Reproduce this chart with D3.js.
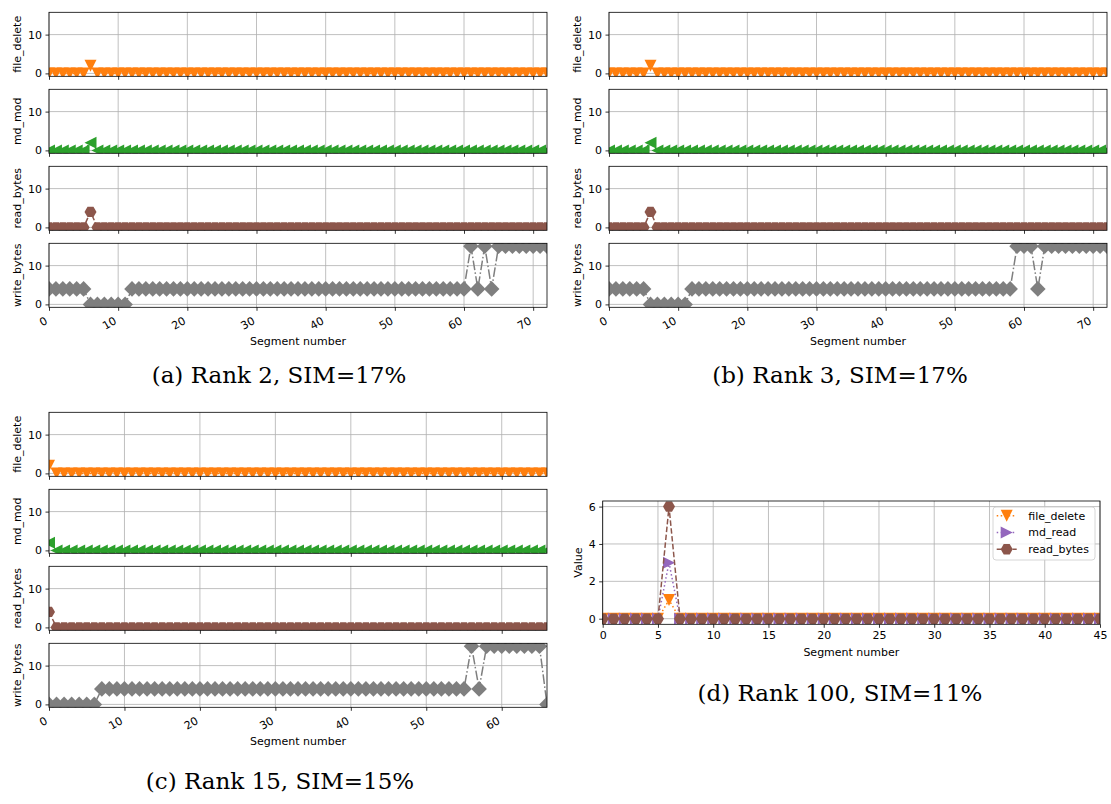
<!DOCTYPE html>
<html>
<head>
<meta charset="utf-8">
<script src="https://cdn.jsdelivr.net/npm/d3@7"></script>
<style>
  body { margin: 0; background: #fff; }
  svg { font-family: "DejaVu Sans", sans-serif; }
</style>
</head>
<body>
<svg width="1111" height="804"></svg>
<script>
// ---- data ----
const rank2FileDelete = [0,0,0,0,0,0,2,0,0,0, 0,0,0,0,0,0,0,0,0,0, 0,0,0,0,0,0,0,0,0,0, 0,0,0,0,0,0,0,0,0,0,
  0,0,0,0,0,0,0,0,0,0, 0,0,0,0,0,0,0,0,0,0, 0,0,0,0,0,0,0,0,0,0, 0,0,0];
const rank2MdMod = [0,0,0,0,0,0,2,0,0,0, 0,0,0,0,0,0,0,0,0,0, 0,0,0,0,0,0,0,0,0,0, 0,0,0,0,0,0,0,0,0,0,
  0,0,0,0,0,0,0,0,0,0, 0,0,0,0,0,0,0,0,0,0, 0,0,0,0,0,0,0,0,0,0, 0,0,0];
const rank2ReadBytes = [0,0,0,0,0,0,4,0,0,0, 0,0,0,0,0,0,0,0,0,0, 0,0,0,0,0,0,0,0,0,0, 0,0,0,0,0,0,0,0,0,0,
  0,0,0,0,0,0,0,0,0,0, 0,0,0,0,0,0,0,0,0,0, 0,0,0,0,0,0,0,0,0,0, 0,0,0];
const rank2WriteBytes = [4,4,4,4,4,4,0,0,0,0, 0,0,4,4,4,4,4,4,4,4, 4,4,4,4,4,4,4,4,4,4, 4,4,4,4,4,4,4,4,4,4,
  4,4,4,4,4,4,4,4,4,4, 4,4,4,4,4,4,4,4,4,4, 4,15,4,15,4,15,15,15,15,15, 15,15,15];

const rank3FileDelete = [0,0,0,0,0,0,2,0,0,0, 0,0,0,0,0,0,0,0,0,0, 0,0,0,0,0,0,0,0,0,0, 0,0,0,0,0,0,0,0,0,0,
  0,0,0,0,0,0,0,0,0,0, 0,0,0,0,0,0,0,0,0,0, 0,0,0,0,0,0,0,0,0,0, 0,0,0];
const rank3MdMod = [0,0,0,0,0,0,2,0,0,0, 0,0,0,0,0,0,0,0,0,0, 0,0,0,0,0,0,0,0,0,0, 0,0,0,0,0,0,0,0,0,0,
  0,0,0,0,0,0,0,0,0,0, 0,0,0,0,0,0,0,0,0,0, 0,0,0,0,0,0,0,0,0,0, 0,0,0];
const rank3ReadBytes = [0,0,0,0,0,0,4,0,0,0, 0,0,0,0,0,0,0,0,0,0, 0,0,0,0,0,0,0,0,0,0, 0,0,0,0,0,0,0,0,0,0,
  0,0,0,0,0,0,0,0,0,0, 0,0,0,0,0,0,0,0,0,0, 0,0,0,0,0,0,0,0,0,0, 0,0,0];
const rank3WriteBytes = [4,4,4,4,4,4,0,0,0,0, 0,0,4,4,4,4,4,4,4,4, 4,4,4,4,4,4,4,4,4,4, 4,4,4,4,4,4,4,4,4,4,
  4,4,4,4,4,4,4,4,4,4, 4,4,4,4,4,4,4,4,4,15, 15,15,4,15,15,15,15,15,15,15, 15,15,15];

const rank15FileDelete = [2,0,0,0,0,0,0,0,0,0, 0,0,0,0,0,0,0,0,0,0, 0,0,0,0,0,0,0,0,0,0, 0,0,0,0,0,0,0,0,0,0,
  0,0,0,0,0,0,0,0,0,0, 0,0,0,0,0,0,0,0,0,0, 0,0,0,0,0,0,0];
const rank15MdMod = [2,0,0,0,0,0,0,0,0,0, 0,0,0,0,0,0,0,0,0,0, 0,0,0,0,0,0,0,0,0,0, 0,0,0,0,0,0,0,0,0,0,
  0,0,0,0,0,0,0,0,0,0, 0,0,0,0,0,0,0,0,0,0, 0,0,0,0,0,0,0];
const rank15ReadBytes = [4,0,0,0,0,0,0,0,0,0, 0,0,0,0,0,0,0,0,0,0, 0,0,0,0,0,0,0,0,0,0, 0,0,0,0,0,0,0,0,0,0,
  0,0,0,0,0,0,0,0,0,0, 0,0,0,0,0,0,0,0,0,0, 0,0,0,0,0,0,0];
const rank15WriteBytes = [0,0,0,0,0,0,0,4,4,4, 4,4,4,4,4,4,4,4,4,4, 4,4,4,4,4,4,4,4,4,4, 4,4,4,4,4,4,4,4,4,4,
  4,4,4,4,4,4,4,4,4,4, 4,4,4,4,4,4,15,4,15,15, 15,15,15,15,15,15,0];

const rank100FileDelete = [0,0,0,0,0,0,1,0,0,0, 0,0,0,0,0,0,0,0,0,0, 0,0,0,0,0,0,0,0,0,0, 0,0,0,0,0,0,0,0,0,0, 0,0,0,0,0,0];
const rank100MdRead = [0,0,0,0,0,0,3,0,0,0, 0,0,0,0,0,0,0,0,0,0, 0,0,0,0,0,0,0,0,0,0, 0,0,0,0,0,0,0,0,0,0, 0,0,0,0,0,0];
const rank100ReadBytes = [0,0,0,0,0,0,6,0,0,0, 0,0,0,0,0,0,0,0,0,0, 0,0,0,0,0,0,0,0,0,0, 0,0,0,0,0,0,0,0,0,0, 0,0,0,0,0,0];

const stackXTicks = [0, 10, 20, 30, 40, 50, 60, 70];
const stackYTicks = [0, 10];
const rank100XTicks = [0, 5, 10, 15, 20, 25, 30, 35, 40, 45];
const rank100YTicks = [0, 2, 4, 6];
const captions = ['(a) Rank 2, SIM=17%', '(b) Rank 3, SIM=17%', '(c) Rank 15, SIM=15%', '(d) Rank 100, SIM=11%'];

// ---- styles per counter ----
const styles = {
  file_delete: { color: '#ff7f0e', marker: 'v', dash: '1.5,2.5' },
  md_mod:      { color: '#2ca02c', marker: '<', dash: '1.5,2.5' },
  md_read:     { color: '#9467bd', marker: '>', dash: '1.5,2.5' },
  read_bytes:  { color: '#8c564b', marker: 'h', dash: '5.5,2.4' },
  write_bytes: { color: '#7f7f7f', marker: 'D', dash: '9.6,2.4,1.5,2.4' }
};

const svg = d3.select('svg');
svg.append('rect').attr('width', 1111).attr('height', 804).attr('fill', '#fff');
let clipCount = 0;

function markerPath(type) {
  const s = 6;
  if (type === 'v') return `M${-s},${-s}L${s},${-s}L0,${s}Z`;
  if (type === '<') return `M${-s},0L${s},${-s}L${s},${s}Z`;
  if (type === '>') return `M${s},0L${-s},${-s}L${-s},${s}Z`;
  if (type === 'D') { const d = 7.8; return `M0,${-d}L${d},0L0,${d}L${-d},0Z`; }
  // flat-top hexagon
  const r = 6;
  const pts = d3.range(6).map(k => [r * Math.cos(k * Math.PI / 3), r * Math.sin(k * Math.PI / 3)]);
  return 'M' + pts.map(p => p.join(',')).join('L') + 'Z';
}

function drawSeries(g, x, y, name, values) {
  const st = styles[name];
  const pts = values.map((v, i) => [i, v]);
  g.append('path')
    .attr('d', d3.line().x(d => x(d[0])).y(d => y(d[1]))(pts))
    .attr('fill', 'none')
    .attr('stroke', st.color)
    .attr('stroke-width', 1.5)
    .attr('stroke-dasharray', st.dash);
  g.selectAll(null)
    .data(pts)
    .join('path')
    .attr('transform', d => `translate(${x(d[0])},${y(d[1])})`)
    .attr('d', markerPath(st.marker))
    .attr('fill', st.color);
}

function drawAxes(x, y, series, opt) {
  const [x0, x1] = x.range();
  const [yb, yt] = y.range();
  const id = 'clip' + (clipCount++);
  svg.append('clipPath').attr('id', id)
    .append('rect').attr('x', x0).attr('y', yt).attr('width', x1 - x0).attr('height', yb - yt);

  const g = svg.append('g');
  // grid
  g.selectAll(null).data(opt.xTicks).join('line')
    .attr('x1', d => x(d)).attr('x2', d => x(d)).attr('y1', yt).attr('y2', yb)
    .attr('stroke', '#b0b0b0').attr('stroke-width', 0.8);
  g.selectAll(null).data(opt.yTicks).join('line')
    .attr('x1', x0).attr('x2', x1).attr('y1', d => y(d)).attr('y2', d => y(d))
    .attr('stroke', '#b0b0b0').attr('stroke-width', 0.8);

  const data = g.append('g').attr('clip-path', `url(#${id})`);
  series.forEach(s => drawSeries(data, x, y, s.name, s.values));

  // x axis
  const xa = g.append('g')
    .attr('transform', `translate(0,${yb})`)
    .call(d3.axisBottom(x).tickValues(opt.xTicks).tickSize(3.5).tickPadding(3.5)
      .tickFormat(opt.xLabels ? d3.format('d') : () => ''));
  xa.select('.domain').remove();
  xa.attr('font-family', 'DejaVu Sans').attr('font-size', 11);
  xa.selectAll('line').attr('stroke', '#000').attr('stroke-width', 0.8);
  xa.selectAll('text').attr('fill', '#000');
  if (opt.rotate) {
    xa.selectAll('text')
      .attr('y', 0).attr('dy', null)
      .attr('text-anchor', 'end')
      .attr('transform', 'translate(-1.3,15.8) rotate(-30)');
  }

  // y axis
  const ya = g.append('g')
    .attr('transform', `translate(${x0},0)`)
    .call(d3.axisLeft(y).tickValues(opt.yTicks).tickSize(3.5).tickPadding(3.5).tickFormat(d3.format('d')));
  ya.select('.domain').remove();
  ya.attr('font-family', 'DejaVu Sans').attr('font-size', 11);
  ya.selectAll('line').attr('stroke', '#000').attr('stroke-width', 0.8);
  ya.selectAll('text').attr('fill', '#000');

  // frame
  g.append('rect')
    .attr('x', x0).attr('y', yt).attr('width', x1 - x0).attr('height', yb - yt)
    .attr('fill', 'none').attr('stroke', '#000').attr('stroke-width', 0.8);

  // y label
  svg.append('text')
    .attr('transform', `translate(${x0 + opt.yLabelOffset},${(yt + yb) / 2}) rotate(-90)`)
    .attr('text-anchor', 'middle')
    .attr('font-size', 11)
    .text(opt.yLabel);
}

function drawStack(left, top, rows, xMax) {
  const x = d3.scaleLinear().domain([0, xMax]).range([left, left + 498]);
  rows.forEach((row, i) => {
    const t = top + i * 77;
    const y = d3.scaleLinear().domain([-0.75, 15.75]).range([t + 64, t]);
    drawAxes(x, y, [row], {
      xTicks: stackXTicks.filter(d => d <= xMax),
      yTicks: stackYTicks,
      xLabels: i === rows.length - 1,
      rotate: true,
      yLabel: row.name,
      yLabelOffset: -28
    });
  });
  svg.append('text')
    .attr('x', left + 249).attr('y', top + 3 * 77 + 64 + 37.5)
    .attr('text-anchor', 'middle').attr('font-size', 11)
    .text('Segment number');
}

drawStack(49, 12.3, [
  { name: 'file_delete', values: rank2FileDelete },
  { name: 'md_mod', values: rank2MdMod },
  { name: 'read_bytes', values: rank2ReadBytes },
  { name: 'write_bytes', values: rank2WriteBytes }
], 72);

drawStack(609, 12.3, [
  { name: 'file_delete', values: rank3FileDelete },
  { name: 'md_mod', values: rank3MdMod },
  { name: 'read_bytes', values: rank3ReadBytes },
  { name: 'write_bytes', values: rank3WriteBytes }
], 72);

drawStack(49, 412.3, [
  { name: 'file_delete', values: rank15FileDelete },
  { name: 'md_mod', values: rank15MdMod },
  { name: 'read_bytes', values: rank15ReadBytes },
  { name: 'write_bytes', values: rank15WriteBytes }
], 66);

// panel (d)
const xD = d3.scaleLinear().domain([0, 45]).range([602.7, 1100]);
const yD = d3.scaleLinear().domain([-0.3, 6.3]).range([624.3, 501]);
const rank100Series = [
  { name: 'file_delete', values: rank100FileDelete },
  { name: 'md_read', values: rank100MdRead },
  { name: 'read_bytes', values: rank100ReadBytes }
];
drawAxes(xD, yD, rank100Series, {
  xTicks: rank100XTicks,
  yTicks: rank100YTicks,
  xLabels: true,
  rotate: false,
  yLabel: 'Value',
  yLabelOffset: -21
});
svg.append('text')
  .attr('x', (602.7 + 1100) / 2).attr('y', 656)
  .attr('text-anchor', 'middle').attr('font-size', 11)
  .text('Segment number');

// legend
const legend = svg.append('g').attr('transform', 'translate(993,507)');
legend.append('rect')
  .attr('width', 102).attr('height', 53).attr('rx', 3)
  .attr('fill', '#fff').attr('fill-opacity', 0.8)
  .attr('stroke', '#cccccc').attr('stroke-width', 0.8);
rank100Series.forEach((s, i) => {
  const st = styles[s.name];
  const row = legend.append('g').attr('transform', `translate(0,${8.7 + i * 16.8})`);
  row.append('line').attr('x1', 3.7).attr('x2', 23.7)
    .attr('stroke', st.color).attr('stroke-width', 1.5).attr('stroke-dasharray', st.dash);
  row.append('path').attr('transform', 'translate(13.7,0)').attr('d', markerPath(st.marker)).attr('fill', st.color);
  row.append('text').attr('x', 35.3).attr('dy', '0.35em').attr('font-size', 11).text(s.name);
});

// captions
const captionPos = [[279, 383], [840, 383], [280, 789], [840, 701]];
svg.selectAll('.caption')
  .data(captions)
  .join('text')
  .attr('class', 'caption')
  .attr('x', (d, i) => captionPos[i][0])
  .attr('y', (d, i) => captionPos[i][1])
  .attr('text-anchor', 'middle')
  .attr('font-family', 'DejaVu Serif, serif')
  .attr('font-size', 23)
  .text(d => d);
</script>
</body>
</html>
